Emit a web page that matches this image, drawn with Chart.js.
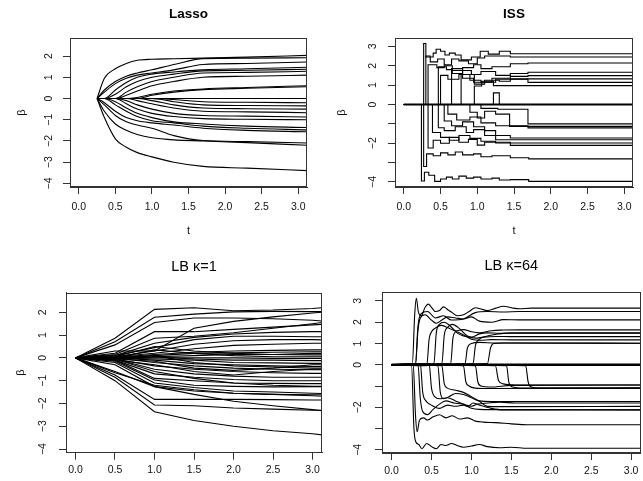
<!DOCTYPE html>
<html>
<head>
<meta charset="utf-8">
<script src="https://cdn.jsdelivr.net/npm/chart.js@4/dist/chart.umd.min.js"></script>
<style>
html,body{margin:0;padding:0;background:#fff;overflow:hidden;width:643px;height:481px;position:relative}
canvas{position:absolute;display:block}
</style>
</head>
<body>
<canvas id="c1" width="321" height="240" style="left:0;top:0"></canvas>
<canvas id="c2" width="322" height="240" style="left:321px;top:0"></canvas>
<canvas id="c3" width="330" height="241" style="left:0;top:240px"></canvas>
<canvas id="c4" width="313" height="241" style="left:330px;top:240px"></canvas>
<script>
// ---------- tick values / labels ----------
const xTicks = [0, 0.5, 1, 1.5, 2, 2.5, 3];
const xTickLabels = ['0.0', '0.5', '1.0', '1.5', '2.0', '2.5', '3.0'];
const yTicksNarrow = [-4, -3, -2, -1, 0, 1, 2];
const yLabelsNarrow = ['\u22124', '\u22123', '\u22122', '\u22121', '0', '1', '2'];
const yTicksWide = [-4, -3, -2, -1, 0, 1, 2, 3];
const yLabelsWide = ['\u22124', '', '\u22122', '', '0', '1', '2', '3'];

// ---------- Lasso paths (values at lassoT) ----------
const lassoT = [0.25, 0.35, 0.5, 0.65, 0.8, 1.0, 1.3, 1.7, 2.3, 3.12];
const lassoPaths = [
  [0, 0.95, 1.4, 1.65, 1.8, 1.85, 1.87, 1.9, 1.95, 2.03],
  [0, 0.4, 0.8, 1.05, 1.2, 1.35, 1.6, 1.88, 1.9, 1.92],
  [0, 0.3, 0.7, 0.95, 1.1, 1.2, 1.35, 1.6, 1.65, 1.72],
  [0, 0, 0.4, 0.75, 1.0, 1.15, 1.25, 1.35, 1.4, 1.47],
  [0, 0, 0.2, 0.55, 0.8, 1.0, 1.15, 1.3, 1.33, 1.38],
  [0, 0, 0, 0.3, 0.55, 0.8, 1.0, 1.2, 1.23, 1.28],
  [0, 0, 0, 0.15, 0.35, 0.6, 0.8, 1.0, 1.05, 1.1],
  [0, 0, 0, 0, 0.05, 0.2, 0.35, 0.45, 0.52, 0.6],
  [0, 0, 0, 0, 0, 0.15, 0.3, 0.42, 0.48, 0.55],
  [0, 0, 0, 0, 0, 0, 0, 0, 0, 0],
  [0, -0.9, -1.9, -2.3, -2.55, -2.75, -3.0, -3.2, -3.28, -3.4],
  [0, -0.6, -1.2, -1.5, -1.7, -1.85, -1.95, -2.0, -2.08, -2.2],
  [0, -0.3, -0.8, -1.1, -1.25, -1.4, -1.75, -1.98, -2.03, -2.1],
  [0, -0.2, -0.6, -0.9, -1.05, -1.15, -1.25, -1.4, -1.5, -1.57],
  [0, 0, -0.3, -0.6, -0.85, -1.05, -1.15, -1.3, -1.4, -1.48],
  [0, 0, -0.15, -0.45, -0.7, -0.9, -1.1, -1.2, -1.3, -1.37],
  [0, 0, 0, -0.25, -0.5, -0.7, -0.85, -0.95, -0.98, -1.0],
  [0, 0, 0, -0.1, -0.3, -0.5, -0.7, -0.8, -0.83, -0.87],
  [0, 0, 0, 0, -0.1, -0.25, -0.45, -0.6, -0.63, -0.67],
  [0, 0, 0, 0, 0, -0.1, -0.3, -0.45, -0.48, -0.5],
  [0, 0, 0, 0, 0, 0, -0.15, -0.3, -0.33, -0.35],
  [0, 0, 0, 0, 0, 0, -0.05, -0.15, -0.18, -0.2]
];

// ---------- ISS paths ([t, beta] step points) ----------
const issPaths = [
  [[0,0],[0.27,3.15],[0.30,2.45],[0.40,2.65],[0.44,2.85],[0.50,2.75],[0.56,2.55],[0.62,2.65],[0.70,2.55],[0.78,2.3],[0.92,2.45],[1.04,2.75],[1.15,2.6],[1.30,2.75],[1.45,2.62],[3.12,2.62]],
  [[0,0],[0.30,2.5],[0.36,2.2],[0.46,2.35],[0.55,2.05],[0.65,2.35],[0.75,2.25],[0.88,2.1],[1.0,2.4],[1.1,2.5],[1.45,2.45],[3.12,2.45]],
  [[0,0],[0.33,2.05],[0.45,1.9],[0.55,2.0],[0.66,1.75],[0.8,1.9],[0.95,2.05],[1.05,1.85],[1.2,1.95],[1.45,2.1],[1.69,2.14],[3.12,2.14]],
  [[0,0],[0.47,1.95],[0.58,1.8],[0.66,1.6],[0.8,1.75],[0.92,1.55],[1.05,1.7],[1.25,1.5],[1.45,1.6],[1.69,1.66],[3.12,1.66]],
  [[0,0],[0.5,1.5],[0.6,1.3],[0.75,1.55],[0.9,1.25],[1.05,1.15],[1.2,1.35],[1.45,1.45],[1.69,1.49],[3.12,1.49]],
  [[0,0],[0.65,1.85],[0.8,1.35],[0.95,1.15],[1.1,1.25],[1.3,1.2],[1.45,1.32],[3.12,1.32]],
  [[0,0],[0.78,1.55],[0.96,1.05],[1.1,1.15],[1.25,1.3],[1.69,1.14],[3.12,1.14]],
  [[0,0],[0.96,0.95],[1.06,1.2],[1.22,0.97],[3.12,0.97]],
  [[0,0],[1.22,0.6],[1.3,0],[3.12,0]],
  [[0,0],[0.24,-3.95],[0.28,-3.5],[0.34,-3.65],[0.42,-3.97],[0.5,-3.85],[0.58,-3.75],[0.66,-3.85],[0.75,-3.7],[0.85,-3.8],[0.95,-3.75],[1.05,-3.85],[1.2,-3.8],[1.3,-3.9],[1.45,-3.88],[1.7,-3.97],[3.12,-3.97]],
  [[0,0],[0.27,-3.2],[0.31,-2.55],[0.4,-2.65],[0.5,-2.5],[0.6,-2.6],[0.7,-2.45],[0.8,-2.6],[0.95,-2.55],[1.05,-2.7],[1.2,-2.65],[1.45,-2.75],[1.7,-2.81],[3.12,-2.81]],
  [[0,0],[0.33,-2.25],[0.4,-1.85],[0.5,-2.0],[0.62,-1.7],[0.75,-1.95],[0.88,-1.8],[1.0,-2.1],[1.1,-1.95],[1.45,-2.11],[3.12,-2.11]],
  [[0,0],[0.39,-1.45],[0.5,-1.7],[0.62,-1.85],[0.75,-1.6],[0.9,-1.75],[1.05,-1.9],[1.25,-1.99],[3.12,-1.99]],
  [[0,0],[0.47,-1.2],[0.55,-1.35],[0.7,-1.15],[0.85,-1.45],[0.95,-1.3],[1.1,-1.6],[1.25,-1.82],[3.12,-1.82]],
  [[0,0],[0.55,-0.85],[0.65,-1.1],[0.8,-0.9],[0.95,-1.15],[1.1,-1.35],[1.25,-1.6],[1.45,-1.73],[3.12,-1.73]],
  [[0,0],[0.6,-0.5],[0.72,-0.8],[0.9,-0.65],[1.05,-0.95],[1.25,-1.1],[1.69,-1.21],[3.12,-1.21]],
  [[0,0],[0.9,-0.4],[1.0,-0.7],[1.1,-0.35],[1.25,-0.5],[1.44,-1.13],[3.12,-1.13]],
  [[0,0],[1.05,-0.2],[1.28,-0.25],[1.69,-1.0],[3.12,-1.0]]
];
const zeroPath = [[0,0],[3.12,0]];

// ---------- LB kappa=1 paths (values at lb1T) ----------
const lb1T = [0, 0.5, 1, 1.5, 2, 2.5, 3, 3.12];
const lb1Paths = [
  [0,0.86,2.13,2.2,2.07,2.1,2.17,2.2],
  [0,0.71,1.78,1.92,2.02,2.04,2.03,2.03],
  [0,0.57,1.55,1.75,1.75,1.72,1.65,1.62],
  [0,0.3,0.3,1.3,1.6,1.8,1.97,2.0],
  [0,0.2,1.15,1.15,1.25,1.35,1.45,1.47],
  [0,0.15,0.86,0.95,1.1,1.3,1.5,1.55],
  [0,0.1,0.64,0.9,1.05,1.12,1.15,1.15],
  [0,0.1,0.45,0.8,0.95,0.95,0.93,0.93],
  [0,0.05,0.3,0.6,0.75,0.8,0.8,0.79],
  [0,0.05,0.2,0.4,0.55,0.6,0.64,0.64],
  [0,0.03,0.15,0.25,0.3,0.33,0.35,0.35],
  [0,0.02,0.1,0.2,0.22,0.25,0.27,0.27],
  [0,0,0.05,0.1,0.15,0.15,0.13,0.13],
  [0,0,0.35,0.2,0.1,0.05,0.05,0.05],
  [0,0.05,0.5,0.3,0.2,0.15,0.2,0.2],
  [0,0,0,0,0,-0.02,-0.02,-0.02],
  [0,-1.0,-2.36,-2.75,-3.0,-3.2,-3.33,-3.38],
  [0,-0.85,-2.07,-2.1,-2.2,-2.25,-2.3,-2.3],
  [0,-0.75,-1.82,-1.82,-1.82,-1.83,-1.85,-1.85],
  [0,-0.6,-1.26,-1.6,-1.9,-2.1,-2.27,-2.32],
  [0,-0.3,-1.26,-1.45,-1.55,-1.6,-1.66,-1.68],
  [0,-0.2,-1.1,-1.3,-1.45,-1.5,-1.55,-1.56],
  [0,-0.15,-0.97,-1.2,-1.25,-1.27,-1.26,-1.26],
  [0,-0.1,-0.9,-1.0,-1.1,-1.12,-1.13,-1.13],
  [0,-0.1,-0.7,-0.85,-0.95,-1.0,-1.0,-1.0],
  [0,-0.05,-0.5,-0.7,-0.8,-0.85,-0.85,-0.85],
  [0,-0.05,-0.35,-0.5,-0.6,-0.65,-0.68,-0.68],
  [0,0,-0.2,-0.35,-0.45,-0.5,-0.52,-0.52],
  [0,0,-0.1,-0.25,-0.3,-0.35,-0.38,-0.38],
  [0,0,-0.05,-0.1,-0.2,-0.22,-0.24,-0.24],
  [0,-0.05,0.05,-0.05,-0.1,-0.1,-0.12,-0.12],
  [0,-0.1,-0.3,-0.6,-0.75,-0.6,-0.5,-0.5],
  [0,-0.05,-0.6,-0.9,-1.1,-1.2,-1.25,-1.25],
  [0,-0.05,-0.15,-0.45,-0.55,-0.45,-0.3,-0.3],
  [0,0,0.1,-0.2,-0.35,-0.4,-0.45,-0.45],
  [0,-0.65,-1.2,-1.4,-1.55,-1.6,-1.62,-1.62]
];

// ---------- LB kappa=64 paths ([t, beta] smooth points) ----------
const lb64Paths = [
  [[0,0],[0.26,0.05],[0.29,2.4],[0.31,3.12],[0.335,2.5],[0.37,2.3],[0.42,2.7],[0.46,2.85],[0.5,2.7],[0.55,2.5],[0.6,2.55],[0.65,2.72],[0.7,2.6],[0.76,2.45],[0.82,2.3],[0.9,2.35],[0.97,2.5],[1.05,2.68],[1.12,2.62],[1.2,2.55],[1.3,2.65],[1.4,2.75],[1.5,2.68],[1.6,2.63],[1.75,2.66],[3.12,2.66]],
  [[0,0],[0.25,-0.05],[0.28,-3.0],[0.3,-3.6],[0.34,-3.75],[0.38,-3.95],[0.44,-3.7],[0.5,-3.85],[0.56,-3.95],[0.62,-3.75],[0.68,-3.8],[0.75,-3.7],[0.82,-3.8],[0.9,-3.88],[1.0,-3.82],[1.1,-3.75],[1.2,-3.85],[1.35,-3.9],[1.5,-3.88],[1.7,-3.93],[3.12,-3.93]],
  [[0,0],[0.27,0.05],[0.3,-2.4],[0.32,-3.15],[0.35,-2.6],[0.4,-2.5],[0.45,-2.6],[0.52,-2.45],[0.6,-2.35],[0.68,-2.5],[0.76,-2.4],[0.85,-2.55],[0.95,-2.5],[1.05,-2.65],[1.15,-2.7],[1.3,-2.72],[1.5,-2.78],[1.7,-2.82],[3.12,-2.82]],
  [[0,0],[0.3,0.05],[0.33,1.6],[0.36,2.2],[0.42,2.35],[0.5,2.1],[0.56,1.95],[0.63,2.1],[0.7,2.25],[0.8,2.2],[0.9,2.15],[1.0,2.25],[1.1,2.05],[1.25,2.0],[1.4,2.12],[1.6,2.11],[3.12,2.11]],
  [[0,0],[0.33,0.05],[0.36,-1.6],[0.39,-2.2],[0.45,-2.35],[0.52,-2.1],[0.6,-1.85],[0.68,-1.7],[0.78,-1.8],[0.88,-1.85],[0.96,-1.95],[1.02,-1.8],[1.1,-1.9],[1.25,-2.05],[1.4,-2.12],[3.12,-2.12]],
  [[0,0],[0.44,-0.05],[0.47,1.2],[0.5,1.55],[0.56,1.75],[0.62,1.85],[0.7,1.75],[0.8,1.6],[0.9,1.65],[1.0,1.55],[1.1,1.5],[1.25,1.6],[1.4,1.63],[1.6,1.64],[3.12,1.64]],
  [[0,0],[0.47,0.05],[0.5,-1.1],[0.54,-1.5],[0.6,-1.6],[0.7,-1.55],[0.8,-1.7],[0.9,-1.85],[1.0,-1.95],[1.08,-1.85],[1.2,-1.8],[1.35,-1.76],[1.55,-1.8],[3.12,-1.8]],
  [[0,0],[0.53,0.05],[0.56,1.5],[0.6,1.9],[0.66,2.0],[0.74,1.8],[0.82,1.5],[0.9,1.35],[1.0,1.3],[1.1,1.45],[1.2,1.5],[1.35,1.48],[1.6,1.48],[3.12,1.48]],
  [[0,0],[0.58,-0.05],[0.61,-1.3],[0.65,-1.6],[0.72,-1.5],[0.8,-1.35],[0.9,-1.4],[1.0,-1.55],[1.1,-1.7],[1.25,-1.73],[3.12,-1.73]],
  [[0,0],[0.63,0.05],[0.66,1.4],[0.7,1.75],[0.76,1.9],[0.85,1.7],[0.95,1.35],[1.05,1.25],[1.15,1.3],[1.3,1.33],[1.5,1.32],[3.12,1.32]],
  [[0,0],[0.63,-0.05],[0.66,-0.9],[0.7,-1.1],[0.8,-1.2],[0.9,-1.3],[1.0,-1.5],[1.1,-1.72],[1.2,-1.96],[1.35,-1.97],[3.12,-1.96]],
  [[0,0],[0.74,0.05],[0.77,1.3],[0.81,1.55],[0.9,1.4],[1.0,1.2],[1.1,1.15],[1.25,1.18],[1.5,1.17],[3.12,1.17]],
  [[0,0],[0.9,-0.05],[0.93,-0.8],[0.97,-1.0],[1.05,-1.1],[1.2,-1.12],[3.12,-1.1]],
  [[0,0],[0.92,0.05],[0.95,0.8],[1.0,1.0],[1.1,1.05],[1.3,1.02],[3.12,1.01]],
  [[0,0],[1.02,0.05],[1.05,0.9],[1.1,1.2],[1.2,1.35],[1.35,1.45],[1.5,1.5],[3.12,1.5]],
  [[0,0],[1.2,0.05],[1.24,0.8],[1.28,1.0],[1.4,1.02],[3.12,1.01]],
  [[0,0],[1.05,-0.05],[1.08,-0.8],[1.12,-1.0],[1.25,-1.05],[1.5,-0.97],[3.12,-0.95]],
  [[0,0],[1.3,-0.05],[1.34,-0.75],[1.4,-0.9],[1.55,-0.95],[3.12,-0.95]],
  [[0,0],[1.44,-0.05],[1.47,-0.85],[1.52,-1.05],[1.65,-1.1],[3.12,-1.1]],
  [[0,0],[1.68,-0.05],[1.71,-0.8],[1.75,-1.05],[1.85,-1.1],[3.12,-1.1]],
  [[0,0],[0.3,0.05],[0.33,1.8],[0.37,2.4],[0.45,2.5],[0.55,2.2],[0.65,2.3],[0.75,2.1],[0.9,2.15],[1.05,2.45],[1.2,2.5],[1.4,2.48],[1.6,2.5],[3.12,2.5]],
  [[0,0],[0.36,0.05],[0.39,-1.3],[0.43,-1.7],[0.5,-1.9],[0.6,-2.05],[0.7,-1.9],[0.8,-1.95],[0.9,-1.9],[1.0,-2.05],[1.1,-2.1],[1.3,-2.11],[3.12,-2.12]]
];

// ---------- drawing ----------
const FONT = "'Liberation Sans', Arial, Helvetica, sans-serif";
const AX = '#333';
const TXT = '#111';
const LINE = {borderColor: '#000', borderWidth: 1.1, pointRadius: 0, pointHoverRadius: 0, fill: false};

function gridLines(tArr, paths, extra) {
  return paths.map(p => Object.assign({data: p.map((v, i) => ({x: tArr[i], y: v}))}, LINE, extra));
}
function pairLines(paths, extra) {
  return paths.map(p => Object.assign({data: p.map(q => ({x: q[0], y: q[1]}))}, LINE, extra));
}

const boxPlugin = {
  id: 'rbox',
  afterDatasetsDraw(chart) {
    const a = chart.chartArea, ctx = chart.ctx;
    ctx.save();
    ctx.strokeStyle = AX;
    ctx.lineWidth = 1;
    const l = Math.round(a.left) + 0.5, t = Math.round(a.top) + 0.5;
    const r = Math.round(a.right) - 0.5, b = Math.round(a.bottom) - 0.5;
    ctx.strokeRect(l, t, r - l, b - t);
    ctx.restore();
  }
};

function panel(id, o) {
  return new Chart(document.getElementById(id), {
    type: 'line',
    data: {datasets: o.datasets},
    options: {
      responsive: false, animation: false, devicePixelRatio: 1,
      events: [],
      layout: {padding: {left: 0, right: o.padRight, top: 0, bottom: 0}},
      plugins: {
        legend: {display: false},
        tooltip: {enabled: false},
        title: {
          display: true, text: o.title, fullSize: false, color: '#000',
          font: {family: FONT, size: o.titleSize, weight: o.titleWeight, lineHeight: 1.2},
          padding: {top: o.titleTop, bottom: o.titleBottom}
        }
      },
      scales: {
        x: {
          type: 'linear', min: -0.12, max: 3.12,
          afterBuildTicks: s => { s.ticks = xTicks.map(v => ({value: v})); },
          afterFit: s => { s.height = o.xH; },
          grid: {drawOnChartArea: false, drawTicks: true, tickLength: 7, color: AX},
          border: {display: true, color: AX},
          ticks: {autoSkip: false, maxRotation: 0, minRotation: 0, padding: o.xPad,
                  font: {family: FONT, size: 10.5}, color: TXT,
                  callback: (v, i) => xTickLabels[i]},
          title: {display: o.showT, text: 't', color: TXT, font: {family: FONT, size: 11},
                  padding: {top: 0, bottom: o.tBottom}}
        },
        y: {
          type: 'linear', min: o.ymin, max: o.ymax,
          afterBuildTicks: s => { s.ticks = o.yTicks.map(v => ({value: v})); },
          afterFit: s => { s.width = o.yW; },
          grid: {drawOnChartArea: false, drawTicks: true, tickLength: 7, color: AX},
          border: {display: true, color: AX},
          ticks: {autoSkip: false, minRotation: 90, maxRotation: 90, crossAlign: 'center',
                  padding: o.yPad, font: {family: FONT, size: 10.5}, color: TXT,
                  callback: (v, i) => o.yLabels[i]},
          title: {display: o.showB, text: '\u03b2', color: TXT, font: {family: FONT, size: 11},
                  padding: {top: o.bTop, bottom: 0}}
        }
      }
    },
    plugins: [boxPlugin]
  });
}

panel('c1', {
  datasets: gridLines(lassoT, lassoPaths, {cubicInterpolationMode: 'monotone'}),
  title: 'Lasso', titleSize: 13.5, titleWeight: 'bold', titleTop: 6, titleBottom: 15.8,
  padRight: 14, xH: 53, xPad: 6.5, showT: true, tBottom: 2,
  ymin: -4.17, ymax: 2.85, yTicks: yTicksNarrow, yLabels: yLabelsNarrow,
  yW: 70, yPad: 7.5, showB: true, bTop: 15
});

panel('c2', {
  datasets: pairLines(issPaths, {stepped: true}).concat(pairLines([zeroPath], {borderWidth: 2})),
  title: 'ISS', titleSize: 13.5, titleWeight: 'bold', titleTop: 6, titleBottom: 15.8,
  padRight: 10, xH: 53, xPad: 6.5, showT: true, tBottom: 2,
  ymin: -4.26, ymax: 3.43, yTicks: yTicksWide, yLabels: yLabelsWide,
  yW: 74, yPad: 9, showB: true, bTop: 14
});

panel('c3', {
  datasets: gridLines(lb1T, lb1Paths, {}),
  title: 'LB \u03ba=1', titleSize: 14.5, titleWeight: 'normal', titleTop: 18, titleBottom: 17.3,
  padRight: 8, xH: 28.3, xPad: 4.5, showT: false, tBottom: 0,
  ymin: -4.16, ymax: 2.86, yTicks: yTicksNarrow, yLabels: yLabelsNarrow,
  yW: 66, yPad: 10, showB: true, bTop: 14
});

panel('c4', {
  datasets: pairLines(lb64Paths, {cubicInterpolationMode: 'monotone'}).concat(pairLines([zeroPath], {borderWidth: 2.5})),
  title: 'LB \u03ba=64', titleSize: 14.5, titleWeight: 'normal', titleTop: 17.3, titleBottom: 17.3,
  padRight: 1.3, xH: 28, xPad: 4.5, showT: false, tBottom: 0,
  ymin: -4.15, ymax: 3.42, yTicks: yTicksWide, yLabels: yLabelsWide,
  yW: 52, yPad: 11, showB: false, bTop: 0
});
</script>
</body>
</html>
